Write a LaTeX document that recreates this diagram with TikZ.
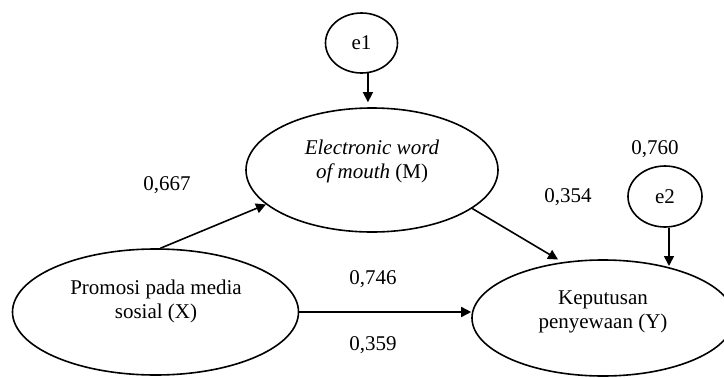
\documentclass[tikz,border=0pt]{standalone}
\usepackage{fontspec}
\setmainfont{Liberation Serif}
\usetikzlibrary{shapes.geometric,arrows.meta,calc}
\begin{document}
\begin{tikzpicture}[x=1pt,y=-1pt,
  every node/.style={font=\fontsize{21}{24}\selectfont},
  latent/.style={draw,ellipse,line width=1.6pt,inner sep=0pt,align=center},
  conn/.style={line width=1.6pt,-{Triangle[length=10pt,width=10pt]}},
  coef/.style={inner sep=0pt}]
\useasboundingbox (0,0) rectangle (724,378);
% nodes
\node[latent,minimum width=72pt,minimum height=60pt] (e1) at (361.5,43) {e1};
\node[latent,minimum width=252pt,minimum height=124pt] (M) at (372,170) {};
\node[latent,minimum width=286pt,minimum height=126pt] (X) at (155.5,312) {};
\node[latent,minimum width=262pt,minimum height=116pt] (Y) at (603,318) {};
\node[latent,minimum width=74pt,minimum height=61pt] (e2) at (665,196.5) {e2};
% texts inside
\node[align=center] (Mt) at (372,161) {\textit{Electronic word}\\\textit{of mouth} (M)};
\node[align=center] (Xt) at (156,301) {Promosi pada media\\sosial (X)};
\node[align=center] (Yt) at (603,311.5) {Keputusan\\penyewaan (Y)};
% coefficients
\node[coef] (c1) at (167,185) {0,667};
\node[coef] (c2) at (568,197) {0,354};
\node[coef] (c3) at (373,279) {0,746};
\node[coef] (c4) at (373,345) {0,359};
\node[coef] (c5) at (655,149) {0,760};
% connectors
\coordinate (e2in) at (669,266);
\draw[conn,shorten >=5pt] (e1.282) -- (e1.282 |- M.north);
\draw[conn] ($(X.north)+(5,0)$) -- (M.198.4);
\draw[conn,shorten >=5pt] (M.339.6) -- (Y.126.4);
\draw[conn] (X.east) -- (X.east -| Y.west);
\draw[conn] (e2.south -| e2in) -- (e2in);
\end{tikzpicture}
\end{document}
